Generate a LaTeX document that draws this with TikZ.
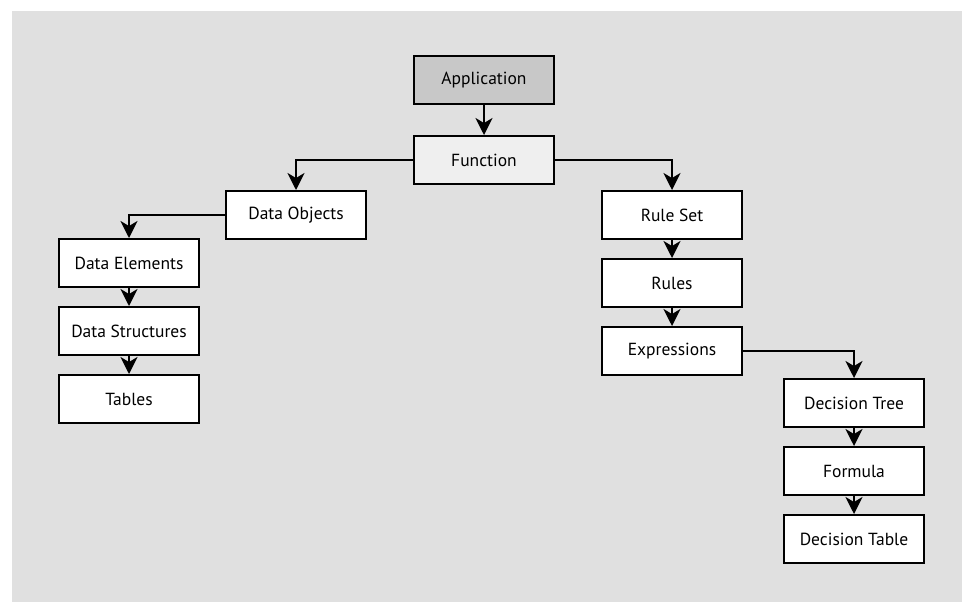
\documentclass[tikz,border=0pt]{standalone}
\usepackage{fontspec}
\setmainfont{PT Sans}
\usetikzlibrary{arrows.meta}
\definecolor{bggray}{HTML}{E0E0E0}
\definecolor{appgray}{HTML}{C8C8C8}
\definecolor{fungray}{HTML}{EFEFEF}
\begin{document}
\begin{tikzpicture}[x=1pt,y=-1pt,
  box/.style={draw=black, line width=2pt, fill=white, minimum width=140pt, minimum height=48pt, inner sep=0pt, font=\fontsize{17.5}{20}\selectfont, text=black},
  conn/.style={line width=1.7pt, -{Stealth[length=17pt, width=17pt, inset=5pt]}}]
\useasboundingbox (0,0) rectangle (962,602);
\fill[white] (0,0) rectangle (962,602);
\fill[bggray] (12,11) rectangle (962,602);
\node[box, fill=appgray] (app) at (484,80) {Application};
\node[box, fill=fungray] (fun) at (484,160) {Function};
\node[box] (dobj) at (296,215) {Data Objects};
\node[box] (delem) at (129,263) {Data Elements};
\node[box] (dstr) at (129,331) {Data Structures};
\node[box] (tabs) at (129,399) {Tables};
\node[box] (rset) at (672,215) {Rule Set};
\node[box] (rules) at (672,283) {Rules};
\node[box] (expr) at (672,351) {Expressions};
\node[box] (dtree) at (854,403) {Decision Tree};
\node[box] (form) at (854,471) {Formula};
\node[box] (dtab) at (854,539) {Decision Table};
\draw[conn] (app) -- (fun);
\draw[conn] (fun.west) -| (dobj.north);
\draw[conn] (fun.east) -| (rset.north);
\draw[conn] (dobj.west) -| (delem.north);
\draw[conn] (delem) -- (dstr);
\draw[conn] (dstr) -- (tabs);
\draw[conn] (rset) -- (rules);
\draw[conn] (rules) -- (expr);
\draw[conn] (expr.east) -| (dtree.north);
\draw[conn] (dtree) -- (form);
\draw[conn] (form) -- (dtab);
\end{tikzpicture}
\end{document}
